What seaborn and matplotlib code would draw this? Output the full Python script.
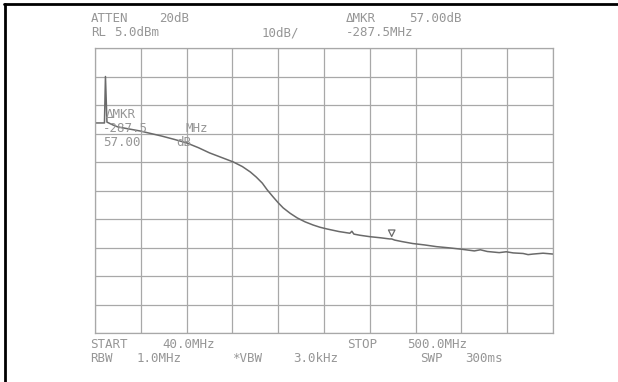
import matplotlib
matplotlib.use("Agg")
import matplotlib.pyplot as plt
from matplotlib.lines import Line2D
import seaborn as sns
import pandas as pd

# Swept response, 40-500 MHz, reference level 5 dBm, 10 dB/div
freq_mhz = [40, 44, 48, 49.5, 50.5, 52, 58, 63, 74, 85, 96, 107, 120, 132,
            144, 155, 167, 179, 188, 196, 202, 208, 213, 219, 224, 229,
            236, 243, 251, 259, 266, 273, 285, 296, 298, 300, 306, 316,
            327, 336, 338, 341, 348, 359, 371, 383, 395, 408, 421, 427,
            434, 446, 453, 460, 470, 475, 480, 490, 500]
level_dbm = [-21.3, -21.3, -21.3, -21.3, -5.0, -21.0, -22.0, -22.7, -23.4,
             -24.1, -25.0, -25.9, -27.1, -28.3, -30.0, -31.8, -33.4, -35.0,
             -36.6, -38.5, -40.3, -42.4, -44.8, -47.3, -49.3, -51.1, -53.0,
             -54.6, -56.0, -57.1, -57.9, -58.5, -59.4, -60.0, -59.3, -60.3,
             -60.7, -61.2, -61.6, -62.0, -62.0, -62.4, -62.9, -63.6, -64.1,
             -64.7, -65.1, -65.6, -66.2, -65.8, -66.4, -66.8, -66.5, -66.9,
             -67.1, -67.5, -67.3, -67.0, -67.3]

marker_freq = 338.0
marker_level = -62.0

start_mhz, stop_mhz = 40.0, 500.0
ref_level, db_per_div, n_div = 5.0, 10.0, 10

header_words = [("ATTEN", 91, 19), ("20dB", 159, 19),
                ("RL", 91, 33), ("5.0dBm", 114, 33), ("10dB/", 262, 33),
                ("\u0394MKR", 346, 19), ("57.00dB", 409, 19),
                ("-287.5MHz", 346, 33)]
footer_words = [("START", 90, 344), ("40.0MHz", 162, 344),
                ("STOP", 347, 344), ("500.0MHz", 407, 344),
                ("RBW", 90, 358), ("1.0MHz", 137, 358),
                ("*VBW", 232, 358), ("3.0kHz", 293, 358),
                ("SWP", 420, 358), ("300ms", 465, 358)]
readout_words = [("\u0394MKR", 106, 114), ("-287.5", 103, 128),
                 ("MHz", 186, 128), ("57.00", 103, 143), ("dB", 176, 143)]

sns.set_theme(style="white")
plt.rcParams["font.family"] = ["DejaVu Sans Mono", "DejaVu Sans"]

W, H = 618, 382
fig = plt.figure(figsize=(W / 100, H / 100), dpi=100)
fig.patch.set_facecolor("white")

# graticule area in pixel coordinates
gx0, gx1, gy0, gy1 = 95, 553, 48, 333
ax = fig.add_axes([gx0 / W, 1 - gy1 / H, (gx1 - gx0) / W, (gy1 - gy0) / H])

df = pd.DataFrame({"freq": freq_mhz, "level": level_dbm})
sns.lineplot(data=df, x="freq", y="level", ax=ax, color="#6a6a6a",
             linewidth=1.1, sort=False)

ax.scatter([marker_freq], [marker_level + 2.0], marker="v", s=22,
           facecolors="none", edgecolors="#6a6a6a", linewidths=0.9, zorder=4)

span = stop_mhz - start_mhz
ax.set_xlim(start_mhz, stop_mhz)
ax.set_ylim(ref_level - n_div * db_per_div, ref_level)
ax.set_xticks([start_mhz + i * span / n_div for i in range(n_div + 1)])
ax.set_yticks([ref_level - i * db_per_div for i in range(n_div + 1)])
ax.grid(True, color="#a8a8a8", linewidth=0.9)
ax.tick_params(length=0, labelbottom=False, labelleft=False)
ax.set_xlabel("")
ax.set_ylabel("")
for s in ax.spines.values():
    s.set_color("#a8a8a8")
    s.set_linewidth(0.9)

def put(words):
    for text, x, y in words:
        fig.text(x / W, 1 - y / H, text, fontsize=9, color="#969696",
                 ha="left", va="center")

put(header_words)
put(footer_words)
put(readout_words)

# dark frame along the top and left edges
fig.add_artist(Line2D([4 / W, 1], [1 - 4 / H, 1 - 4 / H],
                      transform=fig.transFigure, color="black", linewidth=2))
fig.add_artist(Line2D([5 / W, 5 / W], [0, 1 - 4 / H],
                      transform=fig.transFigure, color="black", linewidth=2))

fig.savefig("out.png", dpi=100, facecolor="white")
